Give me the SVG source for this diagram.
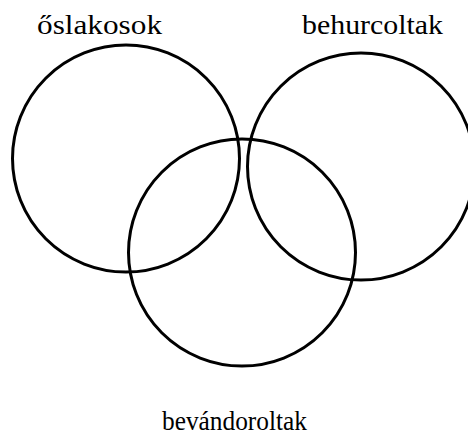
<svg xmlns="http://www.w3.org/2000/svg" width="468" height="435" viewBox="0 0 468 435">
<style>
.c{fill:none;stroke:#000;stroke-width:3}
.t{font-family:"Liberation Serif","Times New Roman",serif;font-size:27px;fill:#000}
</style>
<rect width="468" height="435" fill="#fff"/>
<g id="oslakosok">
<circle class="c" cx="126" cy="158.5" r="113.5"/>
<text class="t" x="37" y="34" textLength="125" lengthAdjust="spacingAndGlyphs">őslakosok</text>
</g>
<g id="behurcoltak">
<circle class="c" cx="361" cy="166.5" r="113.5"/>
<text class="t" x="302" y="34" textLength="141" lengthAdjust="spacingAndGlyphs">behurcoltak</text>
</g>
<g id="bevandoroltak">
<circle class="c" cx="242" cy="252.5" r="113.5"/>
<text class="t" x="162" y="430" textLength="145" lengthAdjust="spacingAndGlyphs">bevándoroltak</text>
</g>
<g id="connectors"/>
</svg>
